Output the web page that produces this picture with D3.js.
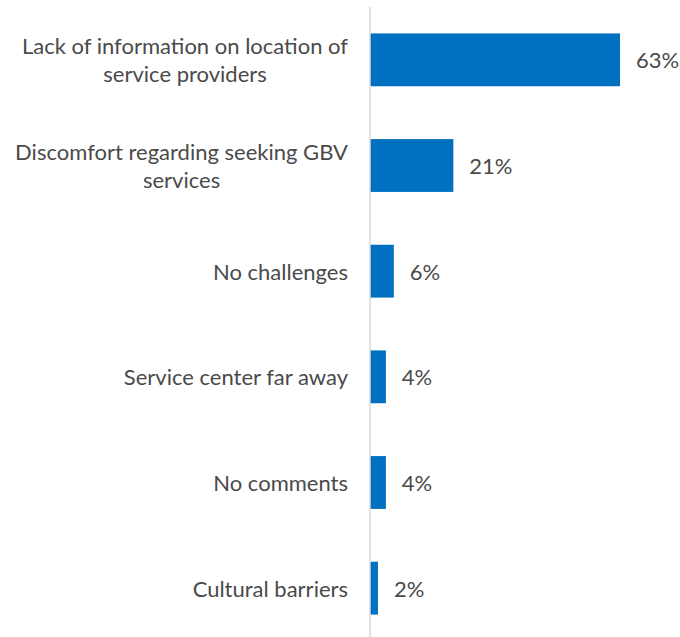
<!DOCTYPE html>
<html><head><meta charset="utf-8">
<script src="https://cdn.jsdelivr.net/npm/d3@7"></script>
<style>html,body{margin:0;padding:0;background:#fff;}</style>
</head><body>
<svg id="chart" width="680" height="637"></svg>
<script>
const categories = [
  ["Lack of information on location of", "service providers"],
  ["Discomfort regarding seeking GBV", "services"],
  ["No challenges"],
  ["Service center far away"],
  ["No comments"],
  ["Cultural barriers"]
];
const values = [63, 21, 6, 4, 4, 2];
const valueLabels = ["63%", "21%", "6%", "4%", "4%", "2%"];

const svg = d3.select("#chart");
const axisX = 370;
const x = d3.scaleLinear().domain([0, 70]).range([axisX, axisX + 277.8]);
const y = d3.scaleBand().domain(d3.range(values.length)).range([7, 641])
  .paddingInner(0.5).paddingOuter(0.25);

const font = "Lato, 'Open Sans', sans-serif";
const fs = 22;
const lineH = 28;
const textColor = "#4a4a4a";

svg.selectAll("rect.bar").data(values).join("rect")
  .attr("class", "bar")
  .attr("x", x(0))
  .attr("y", (d, i) => y(i))
  .attr("width", d => x(d) - x(0))
  .attr("height", y.bandwidth())
  .attr("fill", "#0070C0");

svg.append("line")
  .attr("x1", axisX).attr("x2", axisX)
  .attr("y1", 7).attr("y2", 641)
  .attr("stroke", "#d9d9d9").attr("stroke-width", 1.5);

// category labels
const labelRight = 348;
categories.forEach((lines, i) => {
  const cy = y(i) + y.bandwidth() / 2;
  const g = svg.append("g");
  const texts = lines.map((ln, k) => g.append("text")
    .attr("font-family", font).attr("font-size", fs).attr("fill", textColor)
    .attr("dominant-baseline", "central")
    .attr("text-anchor", "middle")
    .attr("y", cy + (k - (lines.length - 1) / 2) * lineH)
    .text(ln));
  const maxW = d3.max(texts, t => t.node().getComputedTextLength());
  texts.forEach(t => t.attr("x", labelRight - maxW / 2));
});

svg.selectAll("text.val").data(values).join("text")
  .attr("class", "val")
  .attr("x", d => x(d) + 16)
  .attr("y", (d, i) => y(i) + y.bandwidth() / 2)
  .attr("dominant-baseline", "central")
  .attr("font-family", font).attr("font-size", fs).attr("fill", textColor)
  .text((d, i) => valueLabels[i]);
</script>
</body></html>
